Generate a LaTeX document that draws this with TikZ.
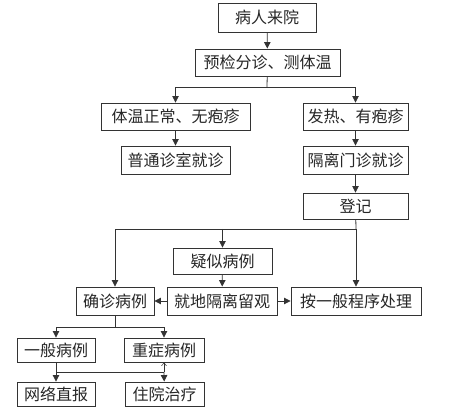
\documentclass[tikz,border=0pt]{standalone}
\usepackage{fontspec}
\newfontfamily\cjk{Noto Sans CJK SC}
\usetikzlibrary{arrows.meta}

\begin{document}
\begin{tikzpicture}
		[x=1pt, y=-1pt,
		line/.style={line width=0.8pt, color=black!80},
		arr/.style={line, -{Triangle[length=6.5pt, width=6.5pt]}},
		arr up/.style={line, -{Straight Barb[length=3pt, width=5pt, line width=0.5pt]}},
		box/.style={draw, line width=0.9pt, color=black!80, text=black!85, inner sep=0pt,
			font=\cjk\fontsize{16}{18}\selectfont}]
		
		\useasboundingbox (0,0) rectangle (450,411);
		
		\node[box, minimum width=98pt, minimum height=29pt] (come) at (267,17.5) {病人来院};
		\node[box, minimum width=145pt, minimum height=27pt] (check) at (267.5,62.5) {预检分诊、测体温};
		\node[box, minimum width=149pt, minimum height=27pt] (normal) at (175.5,116.5) {体温正常、无疱疹};
		\node[box, minimum width=105pt, minimum height=27pt] (fever) at (355.5,116.5) {发热、有疱疹};
		\node[box, minimum width=109pt, minimum height=28pt] (clinic) at (175.5,160) {普通诊室就诊};
		\node[box, minimum width=105pt, minimum height=28pt] (isolate) at (355.5,160) {隔离门诊就诊};
		\node[box, minimum width=105pt, minimum height=26pt] (record) at (355.5,206) {登记};
		\node[box, minimum width=99pt, minimum height=26pt] (suspect) at (222.5,261) {疑似病例};
		\node[box, minimum width=78pt, minimum height=28pt] (confirm) at (115,301) {确诊病例};
		\node[box, minimum width=110pt, minimum height=28pt] (observe) at (222,301) {就地隔离留观};
		\node[box, minimum width=130pt, minimum height=28pt] (general) at (356,301) {按一般程序处理};
		\node[box, minimum width=78pt, minimum height=24pt] (mild) at (56,350) {一般病例};
		\node[box, minimum width=80pt, minimum height=24pt] (severe) at (164,350) {重症病例};
		\node[box, minimum width=78pt, minimum height=24pt] (report) at (56,394) {网络直报};
		\node[box, minimum width=79pt, minimum height=24pt] (hospital) at (164.5,394) {住院治疗};
		
		\coordinate (s1) at (267,87);
		\coordinate (s2) at (356,229);
		\coordinate (s3) at (115,327);
		\coordinate (s4) at (56,372);
		\coordinate (s5) at (164,372);
		
		\draw[arr] (come) -- (check);
		\draw[line] (check) -- (s1);
		\draw[arr] (s1) -| (normal.north);
		\draw[arr] (s1) -| (fever.north);
		\draw[arr] (normal) -- (clinic);
		\draw[arr] (fever) -- (isolate);
		\draw[arr] (isolate) -- (record);
		
		\draw[line] (record) -- (s2);
		\draw[arr] (s2) -| (confirm.north);
		\draw[arr] (suspect |- s2) -- (suspect);
		\draw[arr] (s2) -- (general);
		\draw[arr] (suspect) -- (observe);
		\draw[arr] (observe) -- (confirm);
		\draw[arr] (observe) -- (general);
		
		\draw[line] (confirm) -- (s3);
		\draw[arr] (s3) -| (mild.north);
		\draw[arr] (s3) -| (severe.north);
		\draw[line] (mild) -- (s4);
		\draw[arr] (s4) -- (report);
		\draw[line] (s4) -- (s5);
		\draw[arr] (s5) -- (hospital);
		\draw[arr up] (s5) -- (severe);
	\end{tikzpicture}
\end{document}
